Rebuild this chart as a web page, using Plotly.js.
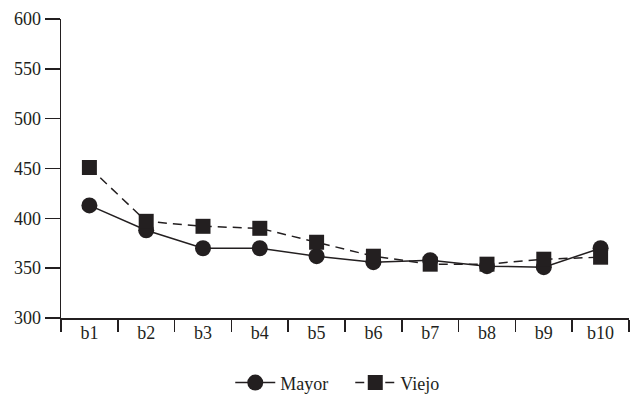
<!DOCTYPE html>
<html><head><meta charset="utf-8">
<script src="https://cdn.plot.ly/plotly-3.0.1.min.js"></script>
<style>html,body{margin:0;padding:0;background:#fff}</style>
</head><body>
<div id="chart" style="width:637px;height:404px"></div>
<script>
var categories = ["b1","b2","b3","b4","b5","b6","b7","b8","b9","b10"];
var mayor = [413, 388, 370, 370, 362, 356, 358, 352, 351, 370];
var viejo = [451, 397, 392, 390, 376, 362, 354, 354, 359, 361];
var yTicks = [300, 350, 400, 450, 500, 550, 600];
var ink = "#231f20";
var font = {family: "Liberation Serif", size: 18, color: ink};

var traces = [
  {x: categories, y: mayor, name: "Mayor", type: "scatter", mode: "lines+markers",
   line: {color: ink, width: 1.5, dash: "solid"},
   marker: {symbol: "circle", size: 16, color: ink}},
  {x: categories, y: viejo, name: "Viejo", type: "scatter", mode: "lines+markers",
   line: {color: ink, width: 1.5, dash: "9px,6px"},
   marker: {symbol: "square", size: 15, color: ink}}
];
var layout = {
  width: 637, height: 404,
  margin: {l: 61, r: 8, t: 19, b: 86, autoexpand: false},
  paper_bgcolor: "#fff", plot_bgcolor: "#fff",
  font: font,
  showlegend: true,
  legend: {orientation: "h", x: 0.298, xanchor: "left", y: -0.217, yanchor: "middle",
           font: font, itemwidth: 40, entrywidth: 65, tracegroupgap: 0},
  xaxis: {type: "category", range: [-0.5, 9.5], showline: true, linecolor: ink, linewidth: 1.5,
          ticks: "outside", tickson: "boundaries", ticklen: 12, tickwidth: 1.5, tickcolor: ink,
          showgrid: false, zeroline: false, ticklabelstandoff: -2, tickfont: font, fixedrange: true},
  yaxis: {range: [300, 600], tickvals: yTicks, showline: true, linecolor: ink, linewidth: 1.5,
          ticks: "outside", ticklen: 15, tickwidth: 1.5, tickcolor: ink,
          showgrid: false, zeroline: false, tickfont: font, fixedrange: true}
};
Plotly.newPlot("chart", traces, layout, {displayModeBar: false, staticPlot: true});
</script>
</body></html>
